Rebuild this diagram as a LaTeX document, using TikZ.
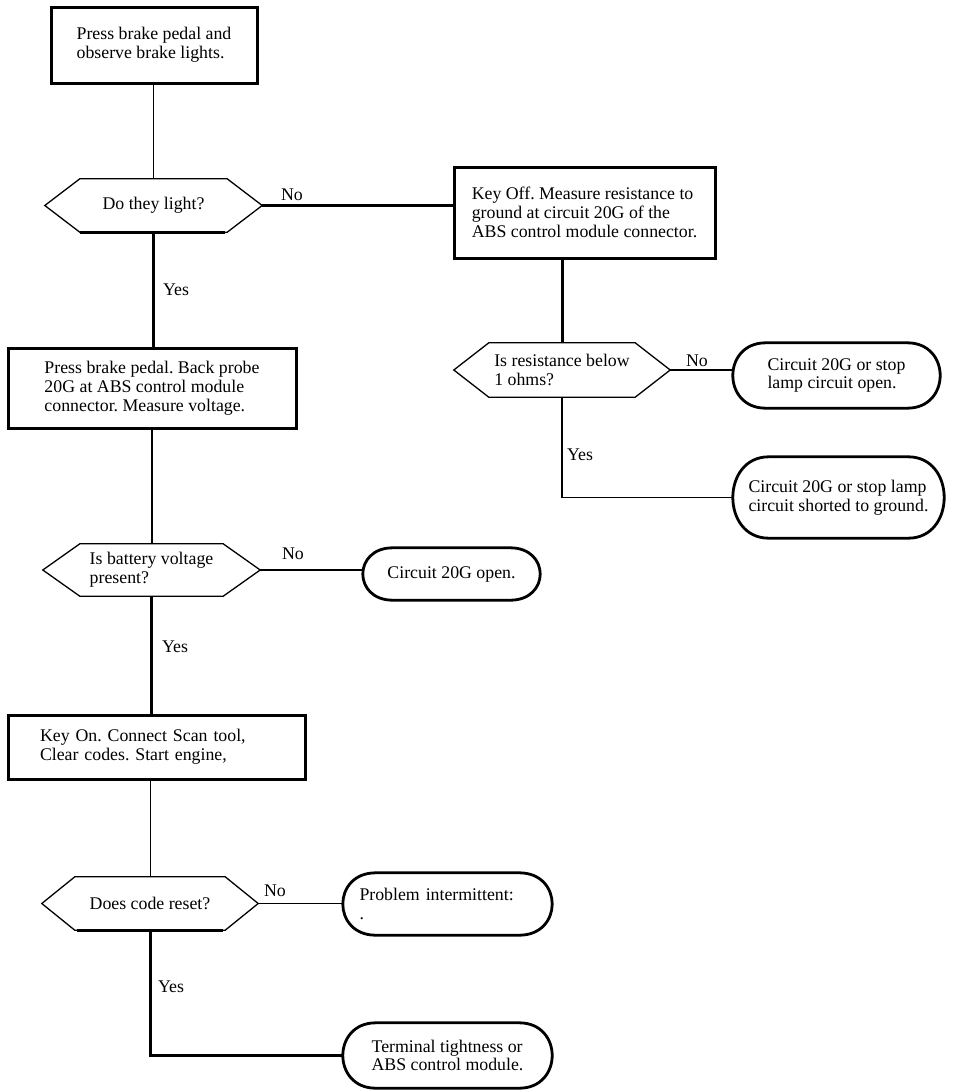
\documentclass[tikz,border=0pt]{standalone}
\usepackage{fontspec}
\setmainfont{Liberation Serif}
\frenchspacing
\newcommand\drawhex[3][]{\draw[hexline,#1] ([xshift=#3]#2.north west) -- ([xshift=-#3]#2.north east) -- (#2.east) -- ([xshift=-#3]#2.south east) -- ([xshift=#3]#2.south west) -- (#2.west) -- cycle;}
\newcommand\drawterm[3]{\draw[termline] ([xshift=#2]#1.north west) -- ([xshift=-#2]#1.north east) .. controls ([xshift=#3]#1.north east) and ([xshift=#3]#1.south east) .. ([xshift=-#2]#1.south east) -- ([xshift=#2]#1.south west) .. controls ([xshift=-#3]#1.south west) and ([xshift=-#3]#1.north west) .. ([xshift=#2]#1.north west) -- cycle;}
\begin{document}
\begin{tikzpicture}[x=1pt,y=-1pt,
  txt/.style={font=\fontsize{17.8}{18.8}\selectfont},
  stepbox/.style={txt, draw, line width=3pt, align=left, inner sep=0pt},
  hexnode/.style={txt, align=left, inner sep=0pt},
  termnode/.style={txt, align=left, inner sep=0pt},
  lbl/.style={txt, inner sep=0pt},
  hexline/.style={line width=1.3pt, line join=miter},
  termline/.style={line width=2.8pt},
  lnthin/.style={line width=1pt},
  lnmid/.style={line width=1.6pt},
  lnmidb/.style={line width=2pt},
  lnthick/.style={line width=3pt}]
\useasboundingbox (0,0) rectangle (960,1092);

% process boxes
\node[stepbox, minimum width=206pt, minimum height=76pt] (box1) at (154,45) {Press brake pedal and\\observe brake lights.};
\node[stepbox, minimum width=261pt, minimum height=91pt] (box2) at (584.5,212.5) {Key Off. Measure resistance to\\ground at circuit 20G of the\\ABS control module connector.};
\node[stepbox, minimum width=288pt, minimum height=80pt] (box3) at (152,388) {Press brake pedal. Back probe\\20G at ABS control module\\connector. Measure voltage.};
\node[stepbox, text width=233pt, inner xsep=32pt, minimum width=297pt, minimum height=64pt] (box4) at (156.5,747) {Key On. Connect Scan tool,\\Clear codes. Start engine,};

% decisions
\node[hexnode, minimum width=217pt, minimum height=53pt] (h1) at (153.5,205.5) {Do they light?};
\node[hexnode, minimum width=216pt, minimum height=54pt] (h2) at (562,370) {Is resistance below\\1 ohms?};
\node[hexnode, minimum width=217pt, minimum height=52pt] (h3) at (151.5,570) {Is battery voltage\\present?};
\node[hexnode, minimum width=216pt, minimum height=53pt] (h4) at (150,903.5) {Does code reset?};
\drawhex{h1}{35pt}
\drawhex{h2}{35pt}
\drawhex{h3}{37pt}
\drawhex{h4}{33pt}
\draw[lnthick] ([xshift=35pt]h1.south west) -- ([xshift=-37pt]h1.south east);
\draw[lnthick] ([xshift=35pt]h4.south west) -- ([xshift=-35pt]h4.south east);

% terminals
\node[termnode, minimum width=207pt, minimum height=65pt] (t1) at (836.5,375.5) {Circuit 20G or stop\\lamp circuit open.};
\node[termnode, minimum width=211pt, minimum height=81pt] (t2) at (838.5,497.5) {Circuit 20G or stop lamp\\circuit shorted to ground.};
\node[termnode, minimum width=177pt, minimum height=52pt] (t3) at (451.5,574) {Circuit 20G open.};
\node[termnode, text width=176pt, minimum width=209pt, minimum height=62pt] (t4) at (447.5,904) {Problem intermittent:\\.};
\node[termnode, minimum width=209pt, minimum height=65pt] (t5) at (447.5,1055.5) {Terminal tightness or\\ABS control module.};
\drawterm{t1}{33pt}{11pt}
\drawterm{t2}{36pt}{12pt}
\drawterm{t3}{30pt}{10pt}
\drawterm{t4}{33pt}{11pt}
\drawterm{t5}{33pt}{11pt}

% connectors
\draw[lnthin] (box1.south -| h1.north) -- (h1.north);
\draw[lnthick] (h1.east) -- (box2.west |- h1.east);
\draw[lnthick] (h1.south) -- (h1.south |- box3.north);
\draw[lnthick] (h2.north |- box2.south) -- (h2.north);
\draw[lnmid] (h2.east) -- (h2.east -| t1.west);
\draw[lnmid] (h2.south) |- (t2.west);
\draw[lnmidb] (h3.north |- box3.south) -- (h3.north);
\draw[lnmid] (h3.east) -- (h3.east -| t3.west);
\draw[lnthick] (h3.south) -- (h3.south |- box4.north);
\draw[lnthin] (h4.north |- box4.south) -- (h4.north);
\draw[lnmid] (h4.east) -- (h4.east -| t4.west);
\draw[lnthick] (h4.south) |- (t5.west);

% labels
\node[lbl] (no1) at (292,195) {No};
\node[lbl] (yes1) at (176,290) {Yes};
\node[lbl] (no2) at (697,361) {No};
\node[lbl] (yes2) at (580,455) {Yes};
\node[lbl] (no3) at (293,554) {No};
\node[lbl] (yes3) at (175,647) {Yes};
\node[lbl] (no4) at (275,891) {No};
\node[lbl] (yes4) at (171,987) {Yes};
\end{tikzpicture}
\end{document}
